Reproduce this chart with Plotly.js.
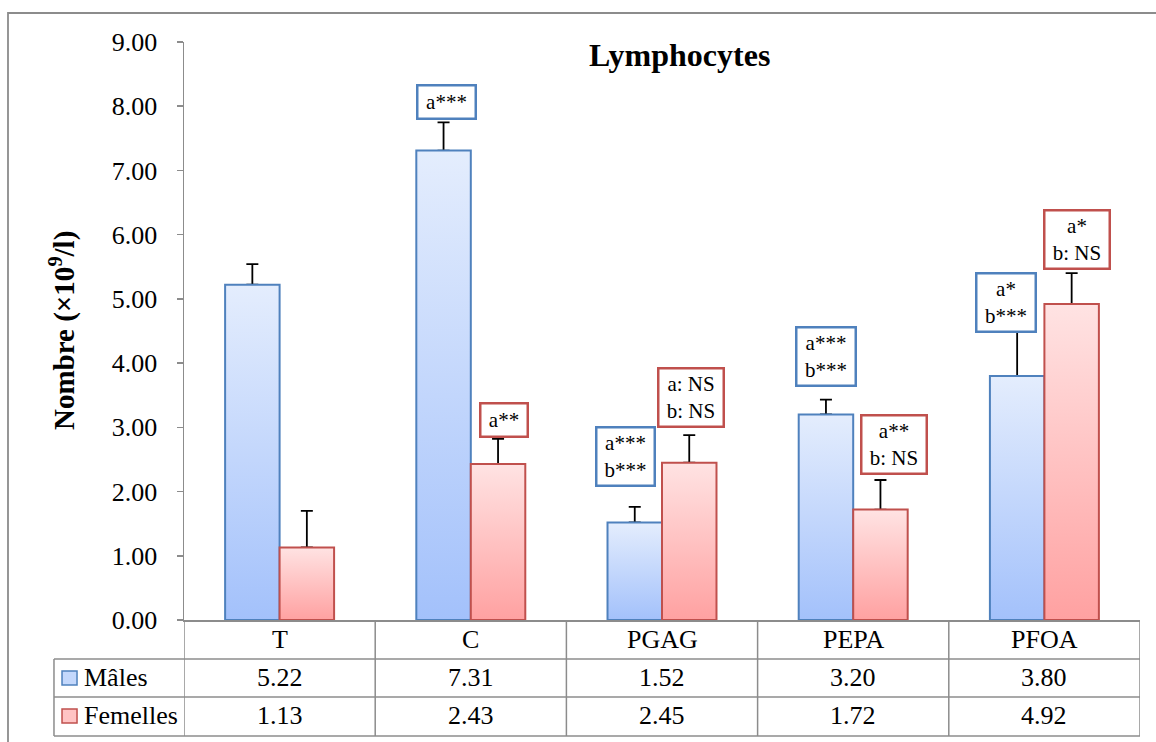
<!DOCTYPE html>
<html>
<head>
<meta charset="utf-8">
<script src="https://cdn.plot.ly/plotly-3.0.1.min.js"></script>
<style>html,body{margin:0;padding:0;background:#fff;}#chart{width:1156px;height:742px;}</style>
</head>
<body>
<div id="chart"></div>
<script>
// ---- data ----
const categories = ['T', 'C', 'PGAG', 'PEPA', 'PFOA'];
const seriesNames = ['Mâles', 'Femelles'];
const males = [5.22, 7.31, 1.52, 3.20, 3.80];
const females = [1.13, 2.43, 2.45, 1.72, 4.92];
const malesErr = [0.32, 0.44, 0.24, 0.23, 0.70];
const femalesErr = [0.57, 0.39, 0.43, 0.46, 0.48];
const sigMales = ['', 'a***', 'a***<br>b***', 'a***<br>b***', 'a*<br>b***'];
const sigFemales = ['', 'a**', 'a: NS<br>b: NS', 'a**<br>b: NS', 'a*<br>b: NS'];
const yTicks = [0, 1, 2, 3, 4, 5, 6, 7, 8, 9];

// ---- style / layout helpers ----
const FONT = '"Liberation Serif", "Times New Roman", Times, serif';
const BW = 0.285;
const blue = {line: '#4f81bd', dark: '#a3c1fb', light: '#e4edfd', mid: '#c4d8fc'};
const red = {line: '#c0504d', dark: '#ffa1a1', light: '#ffe3e3', mid: '#ffc4c4'};
// label box placement: [offset from category centre, height in axis units, box width px]
const sigMalePos = [null, [-0.127, 8.06, 52], [-0.193, 2.54, 52], [-0.142, 4.10, 53], [-0.201, 4.95, 53]];
const sigFemalePos = [null, [0.174, 3.12, 41], [0.152, 3.47, 59], [0.213, 2.73, 59], [0.170, 5.92, 59]];

const traces = [];
const idx = categories.map((c, i) => i);
// error bars first, so the lower caps hide under the bar borders
traces.push({
  type: 'scatter', mode: 'markers', x: idx.map(i => i - BW / 2), y: males,
  marker: {opacity: 0, size: 1},
  error_y: {type: 'data', symmetric: false, array: malesErr, arrayminus: males.map(() => 0), color: '#000', thickness: 1.8, width: 6},
  showlegend: false, hoverinfo: 'skip'
});
traces.push({
  type: 'scatter', mode: 'markers', x: idx.map(i => i + BW / 2), y: females,
  marker: {opacity: 0, size: 1},
  error_y: {type: 'data', symmetric: false, array: femalesErr, arrayminus: females.map(() => 0), color: '#000', thickness: 1.8, width: 6},
  showlegend: false, hoverinfo: 'skip'
});
function barTrace(x0, x1, v, c) {
  return {
    type: 'scatter', mode: 'lines', x: [x0, x0, x1, x1, x0], y: [0, v, v, 0, 0],
    fill: 'toself', line: {color: c.line, width: 2},
    fillgradient: {type: 'vertical', start: 0, stop: v, colorscale: [[0, c.dark], [1, c.light]]},
    showlegend: false, hoverinfo: 'skip'
  };
}
categories.forEach((c, i) => {
  traces.push(barTrace(i - BW, i, males[i], blue));
  traces.push(barTrace(i, i + BW, females[i], red));
});

// ---- annotations ----
const ann = [];
const rowY = {head: -0.033, m: -0.1003, f: -0.166};
const tf = {family: FONT, size: 26, color: '#000'};
const bf = {family: FONT, size: 21, color: '#000'};
function sigBox(i, txt, pos, col) {
  const lines = txt.split('<br>').length;
  return {x: i + pos[0], y: pos[1], xref: 'x', yref: 'y', xanchor: 'center', yanchor: 'middle', text: txt, showarrow: false,
    font: bf, bgcolor: '#fff', bordercolor: col, borderwidth: 2.5, borderpad: 2,
    width: pos[2], height: lines === 1 ? 27 : 52};
}
categories.forEach((c, i) => {
  ann.push({x: i, y: rowY.head, xref: 'x', yref: 'paper', yanchor: 'middle', text: c, showarrow: false, font: tf});
  ann.push({x: i, y: rowY.m, xref: 'x', yref: 'paper', yanchor: 'middle', text: males[i].toFixed(2), showarrow: false, font: tf});
  ann.push({x: i, y: rowY.f, xref: 'x', yref: 'paper', yanchor: 'middle', text: females[i].toFixed(2), showarrow: false, font: tf});
  if (sigMales[i]) ann.push(sigBox(i, sigMales[i], sigMalePos[i], blue.line));
  if (sigFemales[i]) ann.push(sigBox(i, sigFemales[i], sigFemalePos[i], red.line));
});
ann.push({x: -0.1067, y: rowY.m, xref: 'paper', yref: 'paper', xanchor: 'left', yanchor: 'middle', text: seriesNames[0], showarrow: false, font: tf});
ann.push({x: -0.1067, y: rowY.f, xref: 'paper', yref: 'paper', xanchor: 'left', yanchor: 'middle', text: seriesNames[1], showarrow: false, font: tf});
ann.push({x: 0.518, y: 0.9775, xref: 'paper', yref: 'paper', yanchor: 'middle', text: '<b>Lymphocytes</b>', showarrow: false, font: {family: FONT, size: 32, color: '#000'}});
ann.push({x: -0.1276, y: 0.5, xref: 'paper', yref: 'paper', xanchor: 'center', yanchor: 'middle', text: '<b>Nombre (×10<sup>9</sup>/l)</b>', textangle: -90, showarrow: false, font: {family: FONT, size: 29, color: '#000'}});

// ---- table grid shapes ----
const G = '#8c8c8c';
const shapes = [];
const yH = -0.0675, yM = -0.1332, yB = -0.2007, xL = -0.136;
[yH, yM, yB].forEach(y => shapes.push({type: 'line', xref: 'paper', yref: 'paper', x0: xL, x1: 1, y0: y, y1: y, line: {color: G, width: 1.5}}));
shapes.push({type: 'line', xref: 'paper', yref: 'paper', x0: xL, x1: xL, y0: yH, y1: yB, line: {color: G, width: 1.5}});
for (let k = 0; k <= categories.length; k++) {
  shapes.push({type: 'line', xref: 'x', yref: 'paper', x0: k - 0.5, x1: k - 0.5, y0: 0, y1: yB, line: {color: G, width: 1.5}});
}
// legend keys
[[rowY.m, blue], [rowY.f, red]].forEach(([y, c]) => {
  shapes.push({type: 'rect', xref: 'paper', yref: 'paper', x0: -0.1276, x1: -0.1119, y0: y - 0.0121, y1: y + 0.0121,
    line: {color: c.line, width: 1.5}, fillcolor: c.mid});
});
// outer frame
shapes.push({type: 'rect', xref: 'paper', yref: 'paper', x0: -0.1841, x1: 1.2, y0: -0.5, y1: 1.0502, line: {color: G, width: 1.8}, fillcolor: 'rgba(0,0,0,0)'});

const layout = {
  width: 1156, height: 742,
  margin: {l: 184, r: 16, t: 42, b: 122, pad: 0},
  paper_bgcolor: '#fff', plot_bgcolor: '#fff',
  showlegend: false,
  font: {family: FONT, color: '#000'},
  xaxis: {range: [-0.5, categories.length - 0.5], showticklabels: false, ticks: '', showgrid: false, zeroline: false,
    showline: true, linecolor: G, linewidth: 1.5, fixedrange: true},
  yaxis: {range: [0, 9], tickvals: yTicks, ticktext: yTicks.map(v => v.toFixed(2)), ticks: 'outside', ticklen: 6, tickcolor: G, tickwidth: 1.5,
    showline: true, linecolor: G, linewidth: 1.5, showgrid: false, zeroline: false, ticklabelstandoff: 14,
    tickfont: {family: FONT, size: 26, color: '#000'}, fixedrange: true},
  annotations: ann,
  shapes: shapes
};
Plotly.newPlot('chart', traces, layout, {displayModeBar: false, staticPlot: true});
</script>
</body>
</html>
